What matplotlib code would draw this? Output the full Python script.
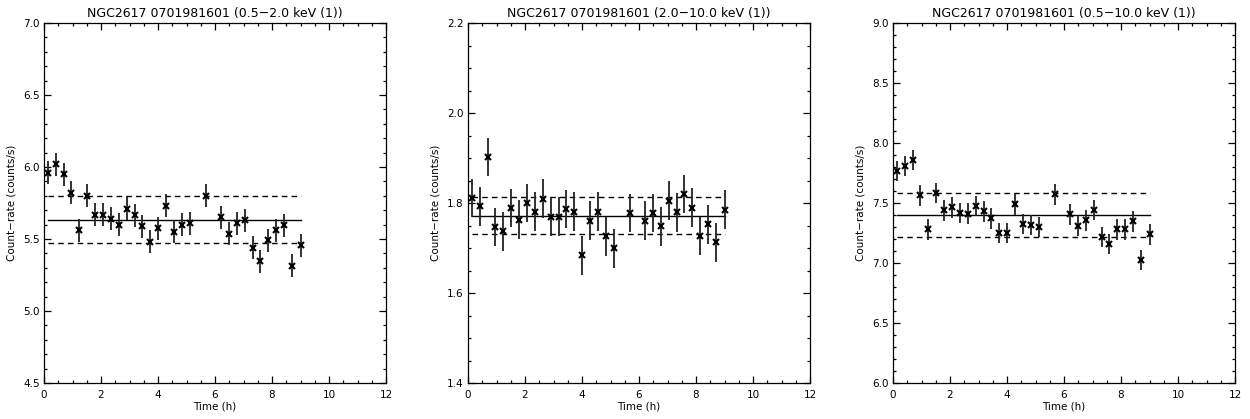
import matplotlib
matplotlib.use("Agg")
import matplotlib.pyplot as plt
from matplotlib.ticker import MultipleLocator
import numpy as np

# Bin centres (hours)
time_h = [0.14, 0.41, 0.69, 0.96, 1.24, 1.51, 1.79, 2.07, 2.34, 2.62, 2.90,
          3.18, 3.45, 3.73, 4.01, 4.28, 4.56, 4.83, 5.11, 5.68, 6.22, 6.49,
          6.77, 7.05, 7.33, 7.59, 7.87, 8.15, 8.43, 8.71, 9.00]

# Soft band 0.5-2.0 keV
soft_rate = [5.96, 6.02, 5.95, 5.82, 5.56, 5.80, 5.67, 5.67, 5.64, 5.60, 5.71,
             5.665, 5.59, 5.48, 5.575, 5.73, 5.55, 5.60, 5.61, 5.80, 5.65, 5.535,
             5.61, 5.63, 5.44, 5.345, 5.49, 5.56, 5.595, 5.315, 5.455]
soft_err = 0.08
soft_mean, soft_lo, soft_hi = 5.635, 5.47, 5.80

# Hard band 2.0-10.0 keV
hard_rate = [1.811, 1.793, 1.902, 1.747, 1.737, 1.789, 1.763, 1.800, 1.781, 1.810,
             1.769, 1.770, 1.787, 1.781, 1.684, 1.761, 1.781, 1.726, 1.699, 1.778,
             1.761, 1.778, 1.748, 1.805, 1.779, 1.820, 1.790, 1.727, 1.753, 1.713,
             1.785]
hard_err = 0.043
hard_mean, hard_lo, hard_hi = 1.772, 1.731, 1.813

# Full band 0.5-10.0 keV
full_rate = [7.767, 7.809, 7.856, 7.564, 7.280, 7.581, 7.439, 7.464, 7.419, 7.411,
             7.475, 7.430, 7.372, 7.252, 7.252, 7.489, 7.327, 7.319, 7.302, 7.572,
             7.405, 7.308, 7.355, 7.441, 7.219, 7.160, 7.280, 7.280, 7.347, 7.024,
             7.238]
full_err = 0.085
full_mean, full_lo, full_hi = 7.40, 7.22, 7.58

titles = ["NGC2617 0701981601 (0.5\u22122.0 keV (1))",
          "NGC2617 0701981601 (2.0\u221210.0 keV (1))",
          "NGC2617 0701981601 (0.5\u221210.0 keV (1))"]
ylims = [(4.5, 7.0), (1.4, 2.2), (6.0, 9.0)]
y_major = [0.5, 0.2, 0.5]
y_minor = [0.1, 0.05, 0.1]

panels = [
    (soft_rate, soft_err, soft_mean, soft_lo, soft_hi),
    (hard_rate, hard_err, hard_mean, hard_lo, hard_hi),
    (full_rate, full_err, full_mean, full_lo, full_hi),
]

plt.rcParams["font.family"] = "DejaVu Sans"
fig = plt.figure(figsize=(12.5, 4.19), dpi=100)

lefts = [44 / 1250, 468 / 1250, 893 / 1250]
width = 342 / 1250
bottom = 1 - 383 / 419
height = 360 / 419

for k, (rate, err, mean, lo, hi) in enumerate(panels):
    ax = fig.add_axes([lefts[k], bottom, width, height])
    t = np.asarray(time_h)
    ax.errorbar(t, rate, yerr=err, fmt="none", ecolor="#222222",
                elinewidth=1.3, capsize=0, zorder=2)
    ax.plot(t, rate, linestyle="none", marker="x", color="black",
            markersize=4, markeredgewidth=1.5, zorder=3)
    t0, t1 = time_h[0], time_h[-1]
    ax.plot([t0, t1], [mean, mean], color="black", lw=1.0, zorder=1)
    for v in (lo, hi):
        ax.plot([t0, t1], [v, v], color="black", lw=1.0,
                dashes=(4, 3), zorder=1)

    ax.set_xlim(0, 12)
    ax.set_ylim(*ylims[k])
    ax.xaxis.set_major_locator(MultipleLocator(2))
    ax.xaxis.set_minor_locator(MultipleLocator(0.5))
    ax.yaxis.set_major_locator(MultipleLocator(y_major[k]))
    ax.yaxis.set_minor_locator(MultipleLocator(y_minor[k]))
    ax.yaxis.set_major_formatter(plt.FormatStrFormatter("%.1f"))
    ax.tick_params(which="both", direction="in", top=True, right=True,
                   labelsize=7.5, width=0.9)
    ax.tick_params(axis="x", which="major", pad=5)
    ax.tick_params(axis="y", which="major", pad=3)
    ax.tick_params(which="major", length=5)
    ax.tick_params(which="minor", length=2.5)
    for s in ax.spines.values():
        s.set_linewidth(0.9)
    ax.set_title(titles[k], fontsize=9, pad=4)
    ax.set_xlabel("Time (h)", fontsize=7.5, labelpad=1)
    ax.set_ylabel("Count\u2212rate (counts/s)", fontsize=7.5, labelpad=5)

fig.savefig("out.png", dpi=100)
